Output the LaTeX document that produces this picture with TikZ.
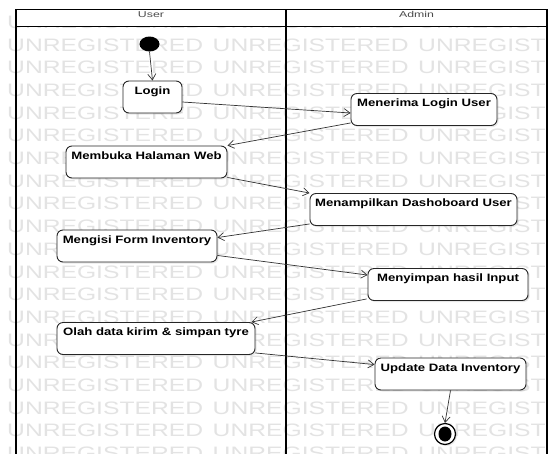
\documentclass[tikz,border=0pt]{standalone}
\usepackage{fontspec}
\setmainfont{Liberation Sans}
\newfontfamily\nodefont[FakeStretch=1.23]{Liberation Sans}
\newfontfamily\headfont[FakeStretch=1.45]{Liberation Sans}
\newfontfamily\wmfont[FakeStretch=1.37]{Liberation Sans}
\usetikzlibrary{arrows.meta,calc,shadows,shapes.geometric}
\definecolor{wmcol}{gray}{0.89}
\definecolor{headcol}{gray}{0.3}
\tikzset{
 act/.style={draw=black!85, line width=0.9pt, fill=white, rounded corners=6pt,
   inner xsep=2pt, inner ysep=5pt, text height=8pt, text depth=14pt,
   font=\nodefont\bfseries\fontsize{10.7}{12}\selectfont,
   drop shadow={shadow xshift=1.5pt, shadow yshift=-1.5pt, opacity=0.18}},
 flow/.style={draw=black!80, line width=0.7pt, -{Straight Barb[length=6pt,width=8pt]}},
 lane/.style={draw=black, line width=1.5pt},
 wmtext/.style={anchor=base west, inner sep=0pt, text=wmcol, font=\wmfont\fontsize{18}{18}\selectfont},
 headtext/.style={anchor=base, inner sep=0pt, text=headcol, font=\headfont\fontsize{8.5}{9}\selectfont},
}
\begin{document}
\begin{tikzpicture}[x=1pt,y=-1pt]
\useasboundingbox (0,0) rectangle (548,453);
\clip (0,0) rectangle (548,453);
\fill[white] (0,0) rectangle (548,453);
% watermark
\foreach \k in {-1,...,18} {
  \foreach \j in {0,1,2} {
    \node[wmtext] (wm-\k-\j) at ({7+205.5*\j},{51+22.7*\k}) {UNREGISTERED};
  }
}
% swimlane frame
\fill[white] (16,9.5) rectangle (547,26.5);
\draw[lane] (15.5,9.5) -- (548,9.5);
\draw[lane] (16,26.5) -- (548,26.5);
\draw[lane, line width=2pt] (16,9) -- (16,460);
\draw[lane, line width=2.5pt] (286,9.5) -- (286,460);
\draw[lane] (547.2,9) -- (547.2,460);
\node[headtext] (hUser) at (151,17) {User};
\node[headtext] (hAdmin) at (416.5,17) {Admin};
% nodes
\node (start) [ellipse, fill=black, minimum width=20pt, minimum height=15pt, inner sep=0pt] at (149.5,44) {};
\node[act, minimum width=59pt] (login) at (152.5,97) {Login};
\node[act, minimum width=146pt] (menerima) at (424,109.5) {Menerima Login User};
\node[act, minimum width=161pt] (membuka) at (146.5,162) {Membuka Halaman Web};
\node[act, minimum width=207pt] (menampilkan) at (413.5,209.5) {Menampilkan Dashoboard User};
\node[act, minimum width=160pt] (mengisi) at (137,246) {Mengisi Form Inventory};
\node[act, minimum width=160pt] (menyimpan) at (448,284.5) {Menyimpan hasil Input};
\node[act, minimum width=198pt] (olah) at (156,338.5) {Olah data kirim \& simpan tyre};
\node[act, minimum width=151pt] (update) at (450.5,374) {Update Data Inventory};
\node (end) [circle, draw=black, line width=1.2pt, fill=white, minimum size=21pt, inner sep=0pt,
  drop shadow={shadow xshift=1.5pt, shadow yshift=-1.5pt, opacity=0.18}] at (445,434) {};
\node (endin) [ellipse, fill=black, minimum width=13pt, minimum height=15pt, inner sep=0pt] at (end.center) {};
% flows
\draw[flow] (start.south) -- (login.north);
\draw[flow] ($(login.east)+(0,5)$) -- ($(menerima.west)+(0,3.5)$);
\draw[flow] ($(menerima.south west)+(0,-3)$) -- (membuka.north east);
\draw[flow] ($(membuka.south east)+(0,-1)$) -- (menampilkan.north west);
\draw[flow] ($(menampilkan.south west)+(0,-2)$) -- ($(mengisi.north east)+(0,8)$);
\draw[flow] ($(mengisi.south east)+(0,-7)$) -- ($(menyimpan.north west)+(0,7)$);
\draw[flow] ($(menyimpan.south west)+(-1,-2)$) -- ($(olah.north east)+(-4,0)$);
\draw[flow] ($(olah.south east)+(0,-2)$) -- ($(update.north west)+(0,7)$);
\draw[flow] (update.south) -- (end.north);
\end{tikzpicture}
\end{document}
